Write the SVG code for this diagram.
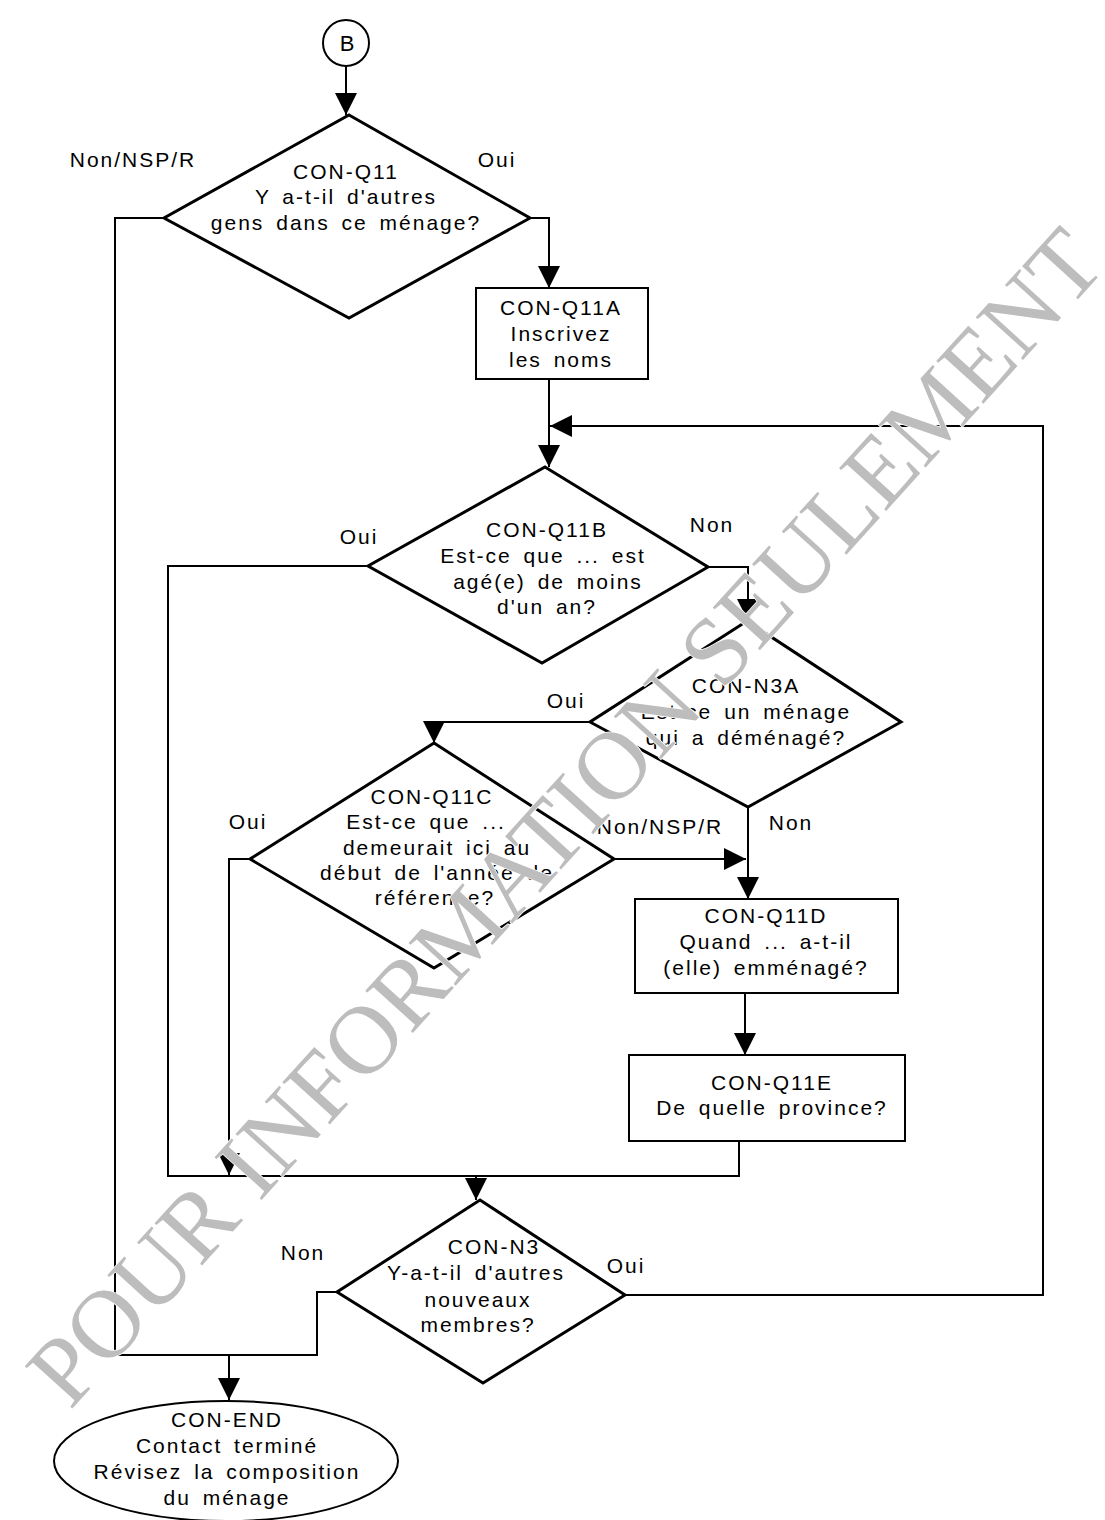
<svg xmlns="http://www.w3.org/2000/svg" width="1105" height="1520" viewBox="0 0 1105 1520">
<style>
text{font-family:"Liberation Sans",Arial,sans-serif;font-size:21px;fill:#000;letter-spacing:2px;word-spacing:4px}
.c{text-anchor:middle}
.shape{fill:#fff;stroke:#000;stroke-width:3;stroke-linejoin:miter}
.box{fill:#fff;stroke:#000;stroke-width:2}
.conn path{fill:none;stroke:#000;stroke-width:2}
.wm{font-family:"Liberation Serif","Times New Roman",serif;font-size:97px;fill:#bdbdbd;letter-spacing:0;word-spacing:0}
</style>
<defs>
<marker id="ah" markerUnits="userSpaceOnUse" markerWidth="22" markerHeight="22" refX="20" refY="10" orient="auto" viewBox="0 0 20 20">
<path d="M0,0 L20,10 L0,20 z" fill="#000"/>
</marker>
</defs>
<rect width="1105" height="1520" fill="#fff"/>

<g class="conn" id="connectors">
<path d="M346,66 V115" marker-end="url(#ah)"/>
<path d="M530,218 H549 V288" marker-end="url(#ah)"/>
<path d="M164,218 H115 V1355 H317 V1292 H337"/>
<path d="M229,1355 V1400" marker-end="url(#ah)"/>
<path d="M549,379 V467" marker-end="url(#ah)"/>
<path d="M625,1295 H1043 V426 H550" marker-end="url(#ah)"/>
<path d="M368,566 H168 V1176 H739 V1141"/>
<path d="M250,859 H229 V1175" marker-end="url(#ah)"/>
<path d="M476,1176 V1200" marker-end="url(#ah)"/>
<path d="M708,567 H748 V621" marker-end="url(#ah)"/>
<path d="M592,722 H434 V743" marker-end="url(#ah)"/>
<path d="M614,859 H746" marker-end="url(#ah)"/>
<path d="M748,807 V899" marker-end="url(#ah)"/>
<path d="M745,993 V1055" marker-end="url(#ah)"/>
</g>

<g id="start-B">
<circle cx="346" cy="43" r="23" class="box"/>
<text x="347" y="51" class="c" style="font-size:22px;letter-spacing:0">B</text>
</g>

<g id="CON-Q11">
<polygon class="shape" points="349,115 530,218 349,318 164,218"/>
<text x="346" y="179" class="c">CON-Q11</text>
<text x="346" y="204" class="c">Y a-t-il d'autres</text>
<text x="346" y="230" class="c">gens dans ce ménage?</text>
</g>
<text x="133" y="167" class="c">Non/NSP/R</text>
<text x="497" y="167" class="c">Oui</text>

<g id="CON-Q11A">
<rect x="476" y="288" width="172" height="91" class="box"/>
<text x="561" y="315" class="c">CON-Q11A</text>
<text x="561" y="341" class="c">Inscrivez</text>
<text x="561" y="367" class="c">les noms</text>
</g>

<g id="CON-Q11B">
<polygon class="shape" points="545,467 708,567 542,663 368,566"/>
<text x="547" y="537" class="c">CON-Q11B</text>
<text x="543" y="563" class="c">Est-ce que ... est</text>
<text x="548" y="589" class="c">agé(e) de moins</text>
<text x="547" y="614" class="c">d'un an?</text>
</g>
<text x="359" y="544" class="c">Oui</text>
<text x="712" y="532" class="c">Non</text>

<g id="CON-N3A">
<polygon class="shape" points="747,621 901,722 748,807 590,722"/>
<text x="746" y="693" class="c">CON-N3A</text>
<text x="746" y="719" class="c">Est-ce un ménage</text>
<text x="746" y="745" class="c">qui a déménagé?</text>
</g>
<text x="566" y="708" class="c">Oui</text>

<g id="CON-Q11C">
<polygon class="shape" points="434,743 614,859 434,968 250,859"/>
<text x="432" y="804" class="c">CON-Q11C</text>
<text x="426" y="829" class="c">Est-ce que ...</text>
<text x="437" y="855" class="c">demeurait ici au</text>
<text x="437" y="880" class="c">début de l'année de</text>
<text x="435" y="905" class="c">référence?</text>
</g>
<text x="248" y="829" class="c">Oui</text>
<text x="660" y="834" class="c">Non/NSP/R</text>
<text x="791" y="830" class="c">Non</text>

<g id="CON-Q11D">
<rect x="635" y="899" width="263" height="94" class="box"/>
<text x="766" y="923" class="c">CON-Q11D</text>
<text x="766" y="949" class="c">Quand ... a-t-il</text>
<text x="766" y="975" class="c">(elle) emménagé?</text>
</g>

<g id="CON-Q11E">
<rect x="629" y="1055" width="276" height="86" class="box"/>
<text x="772" y="1090" class="c">CON-Q11E</text>
<text x="772" y="1115" class="c">De quelle province?</text>
</g>

<g id="CON-N3">
<polygon class="shape" points="480,1200 625,1295 483,1383 337,1292"/>
<text x="494" y="1254" class="c">CON-N3</text>
<text x="476" y="1280" class="c">Y-a-t-il d'autres</text>
<text x="478" y="1307" class="c">nouveaux</text>
<text x="478" y="1332" class="c">membres?</text>
</g>
<text x="303" y="1260" class="c">Non</text>
<text x="626" y="1273" class="c">Oui</text>

<g id="CON-END">
<ellipse cx="226" cy="1461" rx="172" ry="60" class="box"/>
<text x="227" y="1427" class="c">CON-END</text>
<text x="227" y="1453" class="c">Contact terminé</text>
<text x="227" y="1479" class="c">Révisez la composition</text>
<text x="227" y="1505" class="c">du ménage</text>
</g>

<text class="wm" x="0" y="0" textLength="1545" lengthAdjust="spacing" transform="translate(70,1411) rotate(-47.8)" stroke="#fff" stroke-width="1.5" paint-order="stroke">POUR INFORMATION SEULEMENT</text>
</svg>
